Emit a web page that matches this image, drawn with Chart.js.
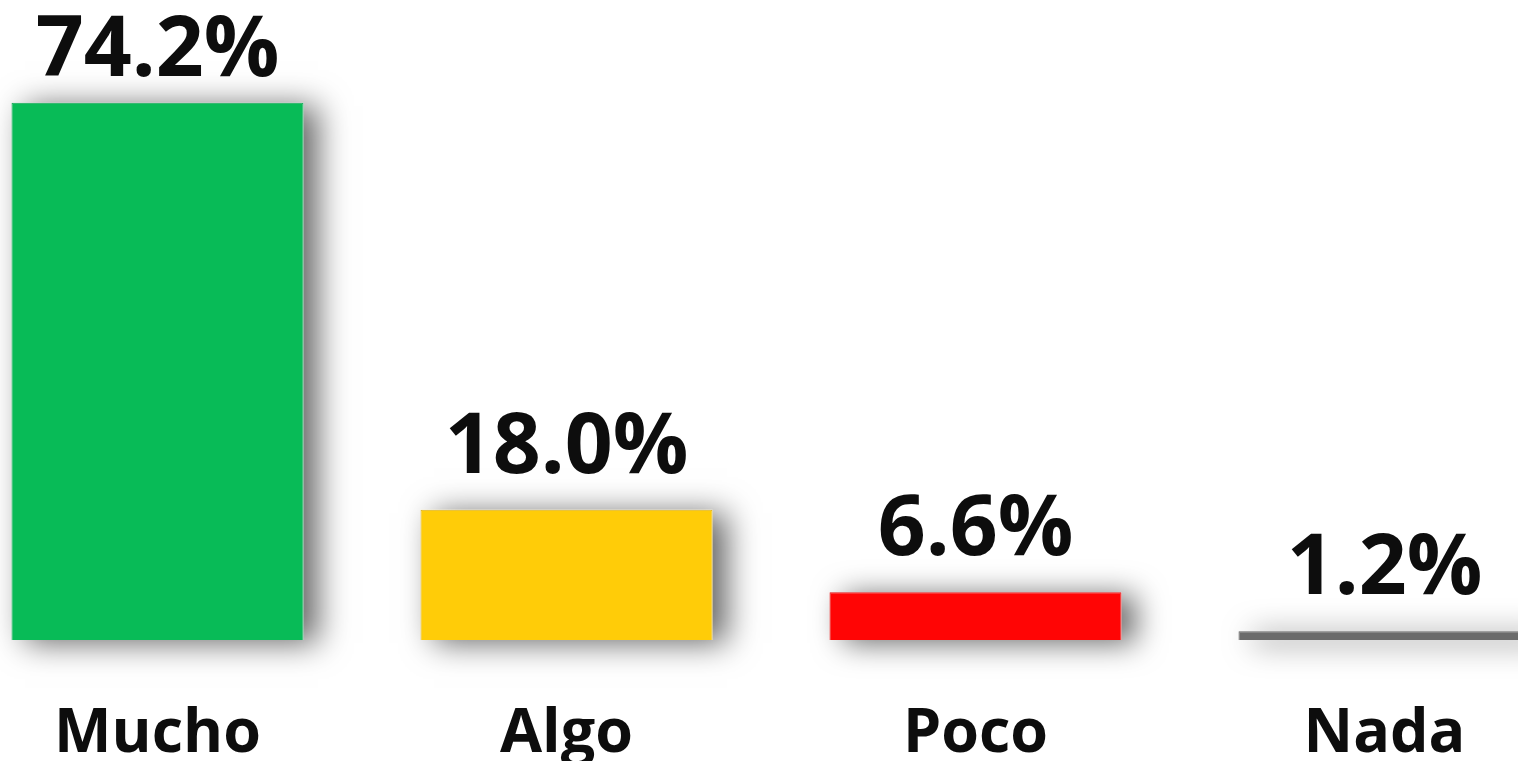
<!DOCTYPE html>
<html>
<head>
<meta charset="utf-8">
<script src="https://cdn.jsdelivr.net/npm/chart.js@4.4.1/dist/chart.umd.min.js"></script>
<style>
    html, body { margin: 0; padding: 0; background: #ffffff; overflow: hidden; }
    #wrap { position: absolute; left: -47px; top: 0; width: 1636px; height: 761px; }
</style>
</head>
<body>
<div id="wrap"><canvas id="chart" width="1636" height="761"></canvas></div>
<script>
var categories = ['Mucho', 'Algo', 'Poco', 'Nada'];
var values = [74.2, 18.0, 6.6, 1.2];
var valueLabels = ['74.2%', '18.0%', '6.6%', '1.2%'];
var barColors = ['#08bb57', '#ffcc08', '#ff0505', '#6b6b6b'];
var barBorders = ['#0aa14d', '#d9ad10', '#d90a0a', '#5e5e5e'];

// soft drop shadow behind each bar, taken from the bar elements
var shadowPlugin = {
    id: 'shadowPlugin',
    beforeDatasetsDraw: function (chart) {
        var ctx = chart.ctx;
        var meta = chart.getDatasetMeta(0);
        ctx.save();
        ctx.fillStyle = '#ffffff';
        ctx.shadowColor = 'rgba(0,0,0,0.6)';
        ctx.shadowBlur = 30;
        ctx.shadowOffsetX = 14;
        ctx.shadowOffsetY = 3;
        meta.data.forEach(function (bar) {
            var p = bar.getProps(['x', 'y', 'base', 'width'], true);
            ctx.fillRect(p.x - p.width / 2, p.y, p.width, p.base - p.y);
        });
        ctx.restore();
    }
};

var valueLabelPlugin = {
    id: 'valueLabelPlugin',
    afterDatasetsDraw: function (chart) {
        var ctx = chart.ctx;
        var meta = chart.getDatasetMeta(0);
        ctx.save();
        ctx.font = 'bold 84px "Open Sans"';
        ctx.fillStyle = '#0d0d0d';
        ctx.textAlign = 'center';
        ctx.textBaseline = 'alphabetic';
        meta.data.forEach(function (bar, i) {
            var y = Math.max(bar.y - 37, 76);
            ctx.fillText(valueLabels[i], bar.x, y);
        });
        ctx.restore();
    }
};

var ctx = document.getElementById('chart').getContext('2d');
var myChart = new Chart(ctx, {
    type: 'bar',
    data: {
        labels: categories,
        datasets: [
            {
                data: values,
                backgroundColor: barColors,
                borderColor: barBorders,
                borderWidth: 1,
                barPercentage: 0.714,
                categoryPercentage: 1
            }
        ]
    },
    options: {
        responsive: false,
        animation: false,
        layout: { padding: 0 },
        plugins: {
            legend: { display: false },
            tooltip: { enabled: false }
        },
        scales: {
            x: {
                grid: { display: false, drawTicks: false },
                border: { display: false },
                ticks: {
                    color: '#0d0d0d',
                    padding: 58,
                    font: { family: '"Open Sans"', size: 61, weight: 'bold' }
                },
                afterFit: function (scale) {
                    scale.height = 121;
                }
            },
            y: {
                display: false,
                min: 0,
                max: 88.4
            }
        }
    },
    plugins: [shadowPlugin, valueLabelPlugin]
});
</script>
</body>
</html>
